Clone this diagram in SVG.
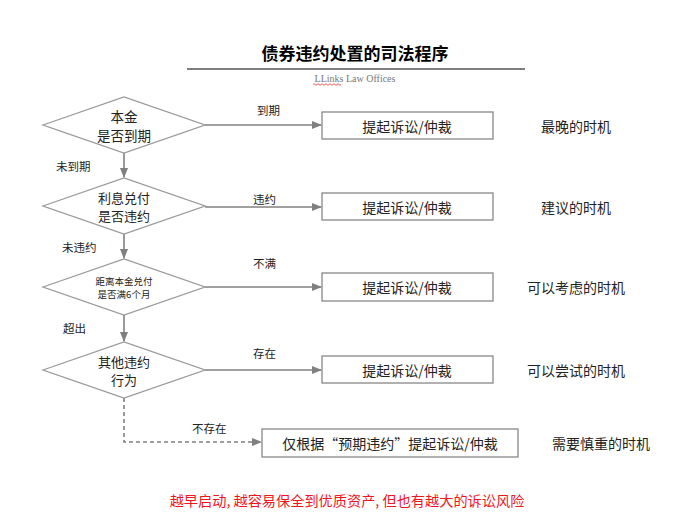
<svg xmlns="http://www.w3.org/2000/svg" width="700" height="524" viewBox="0 0 700 524">
<defs>
<marker id="ah" markerWidth="10" markerHeight="8" refX="9" refY="4" orient="auto" markerUnits="userSpaceOnUse">
<path d="M0,0 L10,4 L0,8 z" fill="#808080"/>
</marker>
<style>
text{font-family:"Noto Sans CJK SC","Liberation Sans",sans-serif;fill:#222;}
.dia{fill:#fff;stroke:#999;stroke-width:1.3;}
.box{fill:#fff;stroke:#888;stroke-width:1.3;}
.ln{fill:none;stroke:#808080;stroke-width:1.6;marker-end:url(#ah);}
.dash{stroke-dasharray:4 3;}
.bt{font-size:14px;text-anchor:middle;dominant-baseline:central;}
.dt{font-size:13px;text-anchor:middle;dominant-baseline:central;}
.el{font-size:11.5px;dominant-baseline:central;}
.rt{font-size:14px;dominant-baseline:central;}
</style>
</defs>
<rect width="700" height="524" fill="#fff"/>
<g id="title">
<text x="355" y="52" font-size="17" font-weight="bold" text-anchor="middle" dominant-baseline="central" style="fill:#000">债券违约处置的司法程序</text>
<line x1="187" y1="69" x2="525" y2="69" stroke="#000" stroke-width="1.2"/>
<text x="355" y="78" font-size="10" text-anchor="middle" dominant-baseline="central" style="font-family:'Liberation Serif',serif;fill:#777">LLinks Law Offices</text>
<path d="M313,84.5 q1,-1.5 2,0 t2,0 t2,0 t2,0 t2,0 t2,0 t2,0 t2,0 t2,0 t2,0 t2,0 t2,0 t2,0 t2,0" fill="none" stroke="#e33" stroke-width="0.8"/>
</g>
<g id="connectors">
<line class="ln" x1="124" y1="153" x2="124" y2="177"/>
<line class="ln" x1="124" y1="234" x2="124" y2="258"/>
<line class="ln" x1="124" y1="315" x2="124" y2="341"/>
<line class="ln" x1="205" y1="125" x2="321" y2="125"/>
<line class="ln" x1="205" y1="207" x2="321" y2="207"/>
<line class="ln" x1="205" y1="287" x2="321" y2="287"/>
<line class="ln" x1="205" y1="370" x2="321" y2="370"/>
<polyline class="ln dash" points="124,398 124,442 261,442"/>
<text class="el" x="257" y="110">到期</text>
<text class="el" x="253" y="199">违约</text>
<text class="el" x="253" y="263">不满</text>
<text class="el" x="253" y="353">存在</text>
<text class="el" x="56" y="166">未到期</text>
<text class="el" x="62" y="247">未违约</text>
<text class="el" x="63" y="328">超出</text>
<text class="el" x="192" y="428">不存在</text>
</g>
<g id="d1">
<polygon class="dia" points="43,125 124,97 205,125 124,153"/>
<text x="124" y="116" font-size="13.5" text-anchor="middle" dominant-baseline="central">本金</text>
<text x="124" y="135" font-size="13.5" text-anchor="middle" dominant-baseline="central">是否到期</text>
</g>
<g id="d2">
<polygon class="dia" points="43,206 124,178 205,206 124,234"/>
<text class="dt" x="124" y="197">利息兑付</text>
<text class="dt" x="124" y="215">是否违约</text>
</g>
<g id="d3">
<polygon class="dia" points="43,287 124,259 205,287 124,315"/>
<text x="124" y="281" font-size="9.5" text-anchor="middle" dominant-baseline="central">距离本金兑付</text>
<text x="124" y="294" font-size="9.5" text-anchor="middle" dominant-baseline="central">是否满6个月</text>
</g>
<g id="d4">
<polygon class="dia" points="43,370 124,342 205,370 124,398"/>
<text class="dt" x="124" y="361">其他违约</text>
<text class="dt" x="124" y="379">行为</text>
</g>
<g id="b1">
<rect class="box" x="322" y="112" width="171" height="27"/>
<text class="bt" x="407" y="126">提起诉讼/仲裁</text>
</g>
<g id="b2">
<rect class="box" x="322" y="193" width="171" height="27"/>
<text class="bt" x="407" y="207">提起诉讼/仲裁</text>
</g>
<g id="b3">
<rect class="box" x="322" y="273" width="171" height="28"/>
<text class="bt" x="407" y="287">提起诉讼/仲裁</text>
</g>
<g id="b4">
<rect class="box" x="322" y="356" width="171" height="27"/>
<text class="bt" x="407" y="370">提起诉讼/仲裁</text>
</g>
<g id="b5">
<rect class="box" x="262" y="429" width="256" height="28"/>
<text class="bt" x="390" y="443">仅根据“预期违约”提起诉讼/仲裁</text>
</g>
<g id="labels">
<text class="rt" x="541" y="126">最晚的时机</text>
<text class="rt" x="541" y="207">建议的时机</text>
<text class="rt" x="527" y="287">可以考虑的时机</text>
<text class="rt" x="527" y="370">可以尝试的时机</text>
<text class="rt" x="552" y="443">需要慎重的时机</text>
<text x="347" y="500" font-size="14.2" text-anchor="middle" dominant-baseline="central" style="fill:#f0141e">越早启动, 越容易保全到优质资产, 但也有越大的诉讼风险</text>
</g>
</svg>
